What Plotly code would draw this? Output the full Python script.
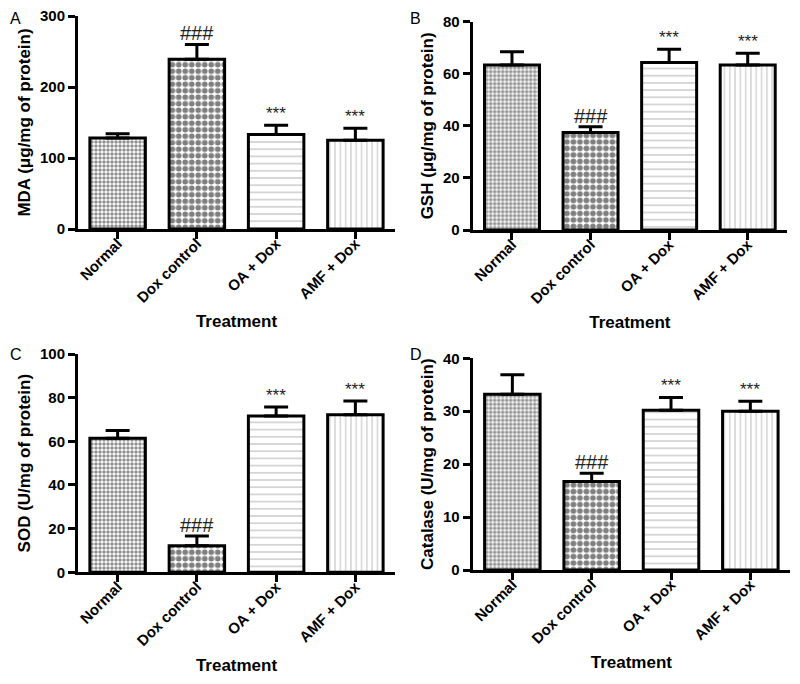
import plotly.graph_objects as go
from plotly.subplots import make_subplots

categories = ["Normal", "Dox control", "OA + Dox", "AMF + Dox"]

mda_mean = [128, 239, 133, 125]
mda_err = [6, 21, 13, 17]
gsh_mean = [63.4, 37.4, 64.3, 63.4]
gsh_err = [5.1, 2.3, 5.1, 4.5]
sod_mean = [61.4, 12.2, 71.6, 72.2]
sod_err = [3.5, 4.4, 4.1, 6.3]
cat_mean = [33.2, 16.7, 30.2, 30.0]
cat_err = [3.7, 1.6, 2.4, 1.9]

sig_labels = ["", "###", "***", "***"]

panels = [
    ("A", mda_mean, mda_err, "MDA (μg/mg of protein)", [0, 300], 100),
    ("B", gsh_mean, gsh_err, "GSH (μg/mg of protein)", [0, 80], 20),
    ("C", sod_mean, sod_err, "SOD (U/mg of protein)", [0, 100], 20),
    ("D", cat_mean, cat_err, "Catalase (U/mg of protein)", [0, 40], 10),
]

# page body has an 8px margin: figure is 792x676 placed at (8, 8)
OFF = 8
W, H = 800 - OFF, 684 - OFF
boxes = [
    (78, 395, 16, 229),
    (472.7, 787, 21.7, 230),
    (78, 395, 354, 572.3),
    (472.7, 790, 358.3, 570),
]
# left/top edges of the panel letters
label_pos = [(8, 7), (408, 7), (8, 344), (408, 344)]

patterns = [
    dict(shape=".", size=4, solidity=0.6, fgcolor="#222", bgcolor="white"),
    dict(shape=".", size=6.5, solidity=0.6, fgcolor="black", bgcolor="white"),
    dict(shape="-", size=7.2, solidity=0.14, fgcolor="#666", bgcolor="white"),
    dict(shape="|", size=5.3, solidity=0.16, fgcolor="#666", bgcolor="white"),
]

FONT = "Liberation Sans, Arial, sans-serif"

fig = make_subplots(rows=2, cols=2)

annotations = []
for i, (lab, mean, err, ytitle, yr, dt) in enumerate(panels):
    r, c = i // 2 + 1, i % 2 + 1
    for j, cat in enumerate(categories):
        fig.add_trace(
            go.Bar(
                x=[cat], y=[mean[j]], width=0.7,
                marker=dict(color="white", pattern=patterns[j],
                            line=dict(color="black", width=3)),
                error_y=dict(type="data", array=[err[j]], arrayminus=[0],
                             symmetric=False, color="black", thickness=3, width=12),
                showlegend=False,
            ),
            row=r, col=c,
        )
    ax = "" if i == 0 else str(i + 1)
    x0, x1, y0, y1 = [v - OFF for v in boxes[i]]
    fig.layout["xaxis" + ax].update(
        domain=[x0 / W, x1 / W], range=[-0.5, 3.5], type="category",
        categoryorder="array", categoryarray=categories, automargin=False,
        showline=True, linecolor="black", linewidth=3,
        ticks="outside", ticklen=7, tickwidth=2.5, tickcolor="black",
        tickangle=-45, showgrid=False, zeroline=False, ticklabelstandoff=-10,
        tickfont=dict(family=FONT, size=15, color="black", weight="bold"),
        title=dict(text="Treatment", standoff=11,
                   font=dict(family=FONT, size=17, color="black", weight="bold")),
    )
    fig.layout["yaxis" + ax].update(
        domain=[1 - y1 / H, 1 - y0 / H], range=yr, dtick=dt, automargin=False,
        showline=True, linecolor="black", linewidth=3,
        ticks="outside", ticklen=7, tickwidth=2.5, tickcolor="black",
        showgrid=False, zeroline=False, ticklabeloverflow="allow",
        tickfont=dict(family=FONT, size=15, color="black", weight="bold"),
        title=dict(text=ytitle, standoff=6,
                   font=dict(family=FONT, size=17, color="black", weight="bold")),
    )
    # significance marks
    for j, s in enumerate(sig_labels):
        if s:
            annotations.append(dict(
                x=categories[j], y=mean[j] + err[j], xref="x" + ax, yref="y" + ax,
                text=s, showarrow=False, yanchor="bottom", yshift=-2 if s == "###" else 0,
                font=dict(family=FONT, size=20 if s == "###" else 17, color="#222"),
            ))
    lx, ly = label_pos[i]
    annotations.append(dict(
        x=max(lx - OFF, 0) / W, y=1 - max(ly - OFF, 0) / H, xref="paper", yref="paper",
        text=lab, showarrow=False, xanchor="left", yanchor="top",
        font=dict(family=FONT, size=16, color="black"),
    ))

fig.update_layout(
    width=W, height=H, margin=dict(l=0, r=0, t=0, b=0),
    plot_bgcolor="white", paper_bgcolor="white",
    bargap=0.3, annotations=annotations,
)

fig.write_html("out.html")
